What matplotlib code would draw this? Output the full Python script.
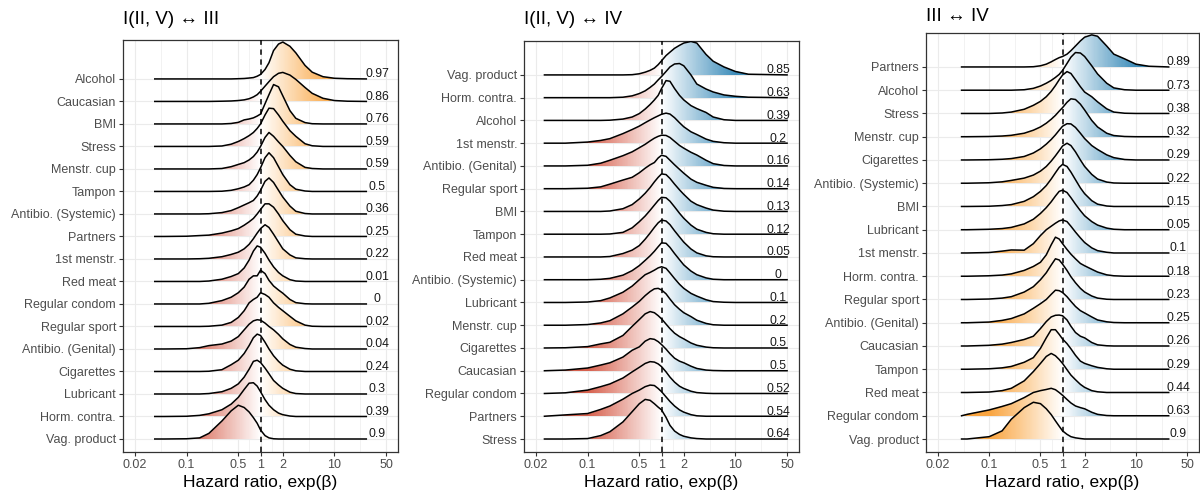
import matplotlib.pyplot as plt
import numpy as np
from matplotlib.colors import LinearSegmentedColormap, Normalize
from matplotlib.patches import Polygon
from matplotlib.ticker import NullFormatter

plt.rcParams['font.family'] = ['Liberation Sans', 'DejaVu Sans']

# hazard ratios at which the ridge heights were read (heights in row units)
grid_hr = [0.05, 0.1, 0.15, 0.2, 0.3, 0.4, 0.5, 0.6, 0.7, 0.8, 0.9, 1.0,
           1.15, 1.3, 1.5, 1.75, 2, 2.5, 3, 4, 5, 7, 10, 15]

# ---- panel 1: I(II, V) <-> III ----
p1_title = 'I(II, V) ↔ III'
p1_range = (0.037, 27)
p1_labels = ['Alcohol', 'Caucasian', 'BMI', 'Stress', 'Menstr. cup', 'Tampon',
             'Antibio. (Systemic)', 'Partners', '1st menstr.', 'Red meat',
             'Regular condom', 'Regular sport', 'Antibio. (Genital)', 'Cigarettes',
             'Lubricant', 'Horm. contra.', 'Vag. product']
p1_probs = ['0.97', '0.86', '0.76', '0.59', '0.59', '0.5', '0.36', '0.25', '0.22',
            '0.01', '0', '0.02', '0.04', '0.24', '0.3', '0.39', '0.9']
p1_dens = [
    [0,0,0,0,0,0,0.01,0.02,0.04,0.06,0.12,0.2,0.42,0.72,1.26,1.55,1.64,1.45,1.16,0.6,0.3,0.1,0.03,0.01],
    [0,0,0,0,0.01,0.02,0.04,0.07,0.12,0.2,0.3,0.45,0.68,0.88,1.1,1.25,1.29,1.17,0.98,0.62,0.36,0.14,0.04,0.01],
    [0,0,0,0,0,0.02,0.07,0.18,0.22,0.27,0.35,0.44,0.9,1.3,1.75,1.65,1.25,0.59,0.25,0.06,0.01,0,0,0],
    [0,0,0,0,0.02,0.1,0.22,0.35,0.48,0.62,0.8,1.0,1.4,1.7,1.68,1.4,1.12,0.7,0.45,0.12,0.03,0,0,0],
    [0,0,0,0,0.02,0.1,0.2,0.28,0.4,0.55,0.75,1.0,1.4,1.62,1.45,1.2,1.0,0.6,0.32,0.07,0.02,0,0,0],
    [0,0,0,0,0.01,0.05,0.12,0.2,0.3,0.5,0.75,1.05,1.5,1.72,1.5,1.1,0.75,0.3,0.1,0.02,0,0,0,0],
    [0,0,0,0.01,0.06,0.15,0.28,0.4,0.5,0.6,0.8,1.05,1.45,1.6,1.4,1.05,0.75,0.35,0.12,0.02,0,0,0,0],
    [0,0.01,0.04,0.06,0.15,0.25,0.35,0.5,0.65,0.8,1.0,1.2,1.45,1.45,1.3,1.0,0.7,0.3,0.1,0.02,0,0,0,0],
    [0,0,0.01,0.03,0.1,0.2,0.3,0.45,0.65,0.9,1.15,1.35,1.52,1.4,1.1,0.75,0.45,0.18,0.05,0.01,0,0,0,0],
    [0,0,0,0.02,0.1,0.22,0.35,0.6,0.95,1.35,1.58,1.52,1.25,0.95,0.65,0.4,0.25,0.08,0.02,0,0,0,0,0],
    [0,0,0,0.03,0.15,0.3,0.5,0.75,1.1,1.25,1.25,1.5,1.35,1.05,0.8,0.62,0.48,0.2,0.06,0.01,0,0,0,0],
    [0,0,0,0.01,0.06,0.18,0.4,0.7,1.05,1.2,1.3,1.5,1.42,1.3,1.05,0.85,0.7,0.45,0.25,0.06,0.01,0,0,0],
    [0,0.01,0.06,0.15,0.22,0.35,0.55,0.85,1.1,1.25,1.3,1.28,1.15,1.0,0.85,0.65,0.45,0.2,0.08,0.02,0,0,0,0],
    [0,0,0,0.01,0.08,0.3,0.5,0.8,1.15,1.5,1.66,1.6,1.3,1.0,0.7,0.45,0.28,0.1,0.03,0,0,0,0,0],
    [0,0,0,0.02,0.1,0.25,0.45,0.75,1.1,1.45,1.5,1.4,1.15,0.9,0.6,0.4,0.25,0.08,0.02,0,0,0,0,0],
    [0,0.01,0.05,0.12,0.3,0.55,0.85,1.2,1.48,1.5,1.35,1.1,0.75,0.5,0.3,0.15,0.08,0.02,0,0,0,0,0,0],
    [0,0.01,0.05,0.25,0.8,1.25,1.5,1.4,1.2,0.95,0.7,0.4,0.15,0.05,0.01,0,0,0,0,0,0,0,0,0],
]

# ---- panel 2: I(II, V) <-> IV ----
p2_title = 'I(II, V) ↔ IV'
p2_range = (0.026, 50)
p2_labels = ['Vag. product', 'Horm. contra.', 'Alcohol', '1st menstr.',
             'Antibio. (Genital)', 'Regular sport', 'BMI', 'Tampon', 'Red meat',
             'Antibio. (Systemic)', 'Lubricant', 'Menstr. cup', 'Cigarettes',
             'Caucasian', 'Regular condom', 'Partners', 'Stress']
p2_probs = ['0.85', '0.63', '0.39', '0.2', '0.16', '0.14', '0.13', '0.12', '0.05',
            '0', '0.1', '0.2', '0.5', '0.5', '0.52', '0.54', '0.64']
p2_dens = [
    [0,0,0,0,0,0.01,0.05,0.12,0.2,0.3,0.45,0.62,0.85,1.0,1.17,1.3,1.4,1.47,1.4,0.9,0.6,0.35,0.15,0.03],
    [0,0,0,0,0.02,0.08,0.18,0.3,0.45,0.6,0.78,0.93,1.15,1.35,1.48,1.5,1.4,1.0,0.6,0.38,0.25,0.12,0.06,0.02],
    [0,0,0,0.01,0.06,0.15,0.3,0.5,0.7,0.9,1.1,1.4,1.75,1.72,1.4,1.1,0.9,0.65,0.52,0.35,0.15,0.03,0,0],
    [0,0.05,0.12,0.2,0.42,0.6,0.75,0.9,1.02,1.12,1.2,1.27,1.32,1.28,1.12,0.9,0.72,0.5,0.38,0.18,0.08,0.02,0,0],
    [0,0.03,0.12,0.25,0.45,0.62,0.8,0.95,1.1,1.22,1.3,1.35,1.34,1.25,1.08,0.9,0.78,0.6,0.48,0.25,0.1,0.02,0,0],
    [0,0.02,0.08,0.2,0.38,0.5,0.7,0.9,1.05,1.15,1.35,1.47,1.42,1.25,1.05,0.85,0.68,0.42,0.28,0.15,0.06,0.01,0,0],
    [0,0,0,0.02,0.12,0.3,0.55,0.8,1.05,1.3,1.5,1.65,1.62,1.45,1.2,0.95,0.75,0.45,0.3,0.15,0.06,0.01,0,0],
    [0,0,0,0.01,0.08,0.28,0.55,0.8,1.05,1.28,1.48,1.62,1.6,1.45,1.2,0.92,0.7,0.4,0.22,0.08,0.02,0,0,0],
    [0,0,0,0.02,0.15,0.3,0.5,0.78,1.05,1.3,1.5,1.62,1.58,1.42,1.15,0.88,0.65,0.35,0.18,0.05,0.01,0,0,0],
    [0,0,0.02,0.06,0.2,0.4,0.62,0.85,1.05,1.25,1.45,1.62,1.6,1.42,1.15,0.88,0.65,0.38,0.22,0.08,0.02,0,0,0],
    [0,0.02,0.08,0.2,0.45,0.72,1.0,1.22,1.32,1.42,1.52,1.57,1.5,1.3,1.05,0.8,0.62,0.4,0.28,0.12,0.04,0.01,0,0],
    [0,0.03,0.1,0.2,0.5,0.8,1.05,1.3,1.48,1.6,1.62,1.55,1.38,1.15,0.9,0.7,0.55,0.38,0.22,0.08,0.02,0,0,0],
    [0.01,0.06,0.18,0.25,0.55,0.95,1.25,1.5,1.6,1.55,1.42,1.28,1.05,0.85,0.65,0.5,0.4,0.22,0.12,0.04,0.01,0,0,0],
    [0.03,0.12,0.25,0.35,0.6,0.9,1.05,1.3,1.41,1.38,1.28,1.15,0.95,0.75,0.55,0.42,0.35,0.2,0.1,0.03,0.01,0,0,0],
    [0.03,0.15,0.3,0.42,0.68,0.95,1.15,1.32,1.4,1.38,1.3,1.18,0.95,0.72,0.5,0.32,0.22,0.1,0.04,0.01,0,0,0,0],
    [0.06,0.12,0.3,0.45,0.75,1.0,1.15,1.3,1.37,1.35,1.22,1.08,0.85,0.65,0.45,0.28,0.18,0.07,0.02,0,0,0,0,0],
    [0,0.02,0.15,0.32,0.75,1.2,1.55,1.74,1.7,1.55,1.4,1.28,0.95,0.6,0.35,0.2,0.12,0.05,0.02,0,0,0,0,0],
]

# ---- panel 3: III <-> IV ----
p3_title = 'III ↔ IV'
p3_range = (0.042, 28)
p3_labels = ['Partners', 'Alcohol', 'Stress', 'Menstr. cup', 'Cigarettes',
             'Antibio. (Systemic)', 'BMI', 'Lubricant', '1st menstr.', 'Horm. contra.',
             'Regular sport', 'Antibio. (Genital)', 'Caucasian', 'Tampon', 'Red meat',
             'Regular condom', 'Vag. product']
p3_probs = ['0.89', '0.73', '0.38', '0.32', '0.29', '0.22', '0.15', '0.05', '0.1',
            '0.18', '0.23', '0.25', '0.26', '0.29', '0.44', '0.63', '0.9']
p3_dens = [
    [0,0,0,0,0,0.01,0.05,0.12,0.22,0.32,0.4,0.45,0.55,0.7,0.9,1.12,1.28,1.38,1.32,0.9,0.55,0.35,0.12,0.03],
    [0,0,0,0,0.02,0.08,0.18,0.3,0.42,0.55,0.68,0.85,1.15,1.42,1.62,1.6,1.45,1.05,0.7,0.3,0.1,0.02,0,0],
    [0,0,0.02,0.06,0.18,0.35,0.52,0.72,0.95,1.2,1.45,1.65,1.8,1.72,1.45,1.15,0.92,0.72,0.5,0.2,0.06,0.01,0,0],
    [0,0.01,0.03,0.06,0.15,0.28,0.42,0.58,0.75,0.92,1.1,1.25,1.48,1.63,1.6,1.4,1.15,0.7,0.42,0.15,0.05,0.01,0,0],
    [0,0.01,0.03,0.06,0.15,0.3,0.48,0.68,0.88,1.08,1.28,1.45,1.56,1.55,1.4,1.15,0.92,0.62,0.45,0.22,0.1,0.02,0,0],
    [0,0.02,0.06,0.12,0.22,0.35,0.52,0.72,0.95,1.18,1.4,1.6,1.72,1.62,1.35,1.0,0.72,0.38,0.18,0.05,0.01,0,0,0],
    [0,0.01,0.04,0.08,0.22,0.42,0.65,0.9,1.18,1.45,1.68,1.81,1.72,1.48,1.15,0.8,0.55,0.25,0.1,0.02,0,0,0,0],
    [0,0.02,0.05,0.1,0.25,0.45,0.7,0.95,1.2,1.45,1.65,1.7,1.6,1.38,1.1,0.82,0.6,0.35,0.2,0.07,0.02,0,0,0],
    [0,0.02,0.08,0.13,0.12,0.4,0.75,1.0,1.15,1.28,1.38,1.42,1.35,1.15,0.9,0.65,0.45,0.22,0.1,0.03,0,0,0,0],
    [0,0.02,0.05,0.1,0.25,0.42,0.6,0.92,1.35,1.68,1.6,1.4,1.15,0.95,0.75,0.55,0.45,0.3,0.18,0.06,0.02,0,0,0],
    [0,0.02,0.06,0.12,0.32,0.55,0.85,1.15,1.48,1.75,1.7,1.52,1.25,0.98,0.72,0.48,0.32,0.15,0.06,0.01,0,0,0,0],
    [0,0.03,0.1,0.18,0.38,0.62,0.82,1.0,1.22,1.4,1.38,1.3,1.12,0.92,0.7,0.52,0.42,0.25,0.12,0.04,0.01,0,0,0],
    [0,0.03,0.08,0.15,0.28,0.42,0.75,1.05,1.25,1.32,1.33,1.3,1.12,0.85,0.58,0.42,0.35,0.15,0.05,0.01,0,0,0,0],
    [0,0.02,0.06,0.12,0.3,0.5,0.9,1.35,1.7,1.7,1.5,1.3,1.1,0.88,0.6,0.35,0.25,0.15,0.08,0.02,0,0,0,0],
    [0,0.02,0.08,0.18,0.5,0.9,1.25,1.55,1.68,1.58,1.42,1.25,0.98,0.75,0.55,0.35,0.22,0.08,0.03,0,0,0,0,0],
    [0.06,0.25,0.4,0.52,0.78,1.0,1.08,1.13,1.18,1.12,1.0,0.88,0.7,0.55,0.42,0.35,0.3,0.15,0.06,0.01,0,0,0,0],
    [0,0.1,0.35,0.85,1.35,1.58,1.52,1.3,1.05,0.78,0.55,0.35,0.2,0.1,0.05,0.02,0,0,0,0,0,0,0,0],
]

red, orange, blue = '#D6604D', '#F9A43F', '#3E8DBA'

panels = [
    dict(title=p1_title, labels=p1_labels, probs=p1_probs, dens=p1_dens, rng=p1_range,
         cols=(red, orange), box=(123, 398, 40, 452), ylim=(-0.578, 17.73), title_y=20),
    dict(title=p2_title, labels=p2_labels, probs=p2_probs, dens=p2_dens, rng=p2_range,
         cols=(red, blue), box=(524, 799, 41, 452), ylim=(-0.571, 17.49), title_y=20),
    dict(title=p3_title, labels=p3_labels, probs=p3_probs, dens=p3_dens, rng=p3_range,
         cols=(orange, blue), box=(926, 1199, 33, 452), ylim=(-0.559, 17.46), title_y=16.5),
]

W, H = 1200, 494
fig = plt.figure(figsize=(W / 100, H / 100), dpi=100)

xticks = [0.02, 0.1, 0.5, 1, 2, 10, 50]
xticklabels = ['0.02', '0.1', '0.5', '1', '2', '10', '50']
xminor = [np.sqrt(a * b) for a, b in zip(xticks[:-1], xticks[1:])]
grad_lim = 1.0

for p in panels:
    l, r, t, b = p['box']
    ax = fig.add_axes([l / W, 1 - b / H, (r - l) / W, (b - t) / H])
    ax.set_xscale('log')
    ax.set_xlim(0.01375, 72.5)
    ax.set_ylim(*p['ylim'])
    cmap = LinearSegmentedColormap.from_list('div', [p['cols'][0], 'white', p['cols'][1]])
    norm = Normalize(-grad_lim, grad_lim)
    n = len(p['labels'])
    start, end = p['rng']
    for k, (dens, prob) in enumerate(zip(p['dens'], p['probs'])):
        base = n - 1 - k
        xs = [start] + grid_hr + [end]
        ys = [base] + [base + h for h in dens] + [base]
        z = 10 + k * 2
        verts = list(zip(xs, ys)) + [(end, base), (start, base)]
        poly = Polygon(verts, closed=True, transform=ax.transData)
        xe = np.logspace(np.log10(start), np.log10(end), 400)
        xc = np.sqrt(xe[:-1] * xe[1:])
        mesh = ax.pcolormesh(xe, [base, base + max(dens) + 0.1], np.log10(xc)[None, :],
                             cmap=cmap, norm=norm, shading='flat', zorder=z)
        mesh.set_clip_path(poly)
        ax.plot(xs, ys, color='black', lw=1.1, zorder=z + 1, solid_joinstyle='round')
        ax.text(38, base + 0.2, prob, ha='center', va='center', fontsize=8.8,
                color='#1A1A1A', zorder=200)

    ax.axvline(1, color='black', lw=1.1, ls=(0, (3.5, 3)), zorder=150)

    ax.set_xticks(xticks)
    ax.set_xticklabels(xticklabels)
    ax.set_xticks(xminor, minor=True)
    ax.xaxis.set_minor_formatter(NullFormatter())
    ax.set_yticks(range(n))
    ax.set_yticklabels(p['labels'][::-1])
    ax.tick_params(axis='both', which='major', labelsize=9, labelcolor='#4D4D4D',
                   color='#333333', length=3, width=0.8, pad=2)
    ax.tick_params(axis='x', which='minor', length=0)
    ax.grid(which='major', color='#EBEBEB', lw=0.8)
    ax.grid(which='minor', axis='x', color='#EBEBEB', lw=0.45)
    ax.set_axisbelow(True)
    for s in ax.spines.values():
        s.set_color('#333333')
        s.set_linewidth(0.9)
    ax.set_xlabel('Hazard ratio, exp(β)', fontsize=12.5, labelpad=3)
    fig.text(l / W, 1 - p['title_y'] / H, p['title'], fontsize=13.5, ha='left', va='center')

fig.savefig('out.png', dpi=100)
